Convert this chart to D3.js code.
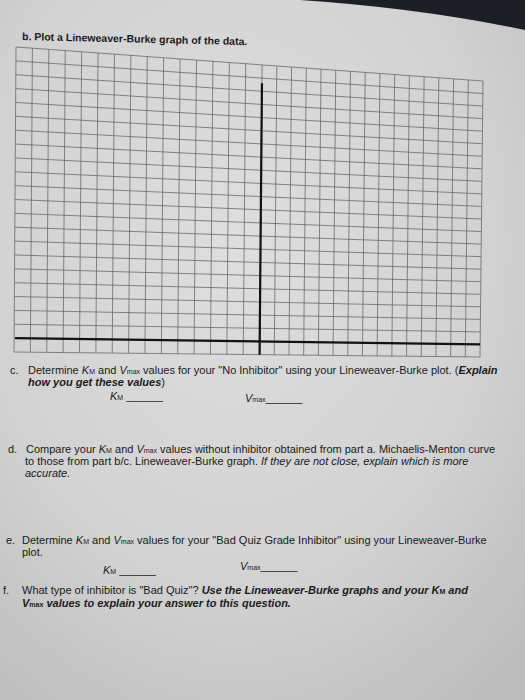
<!DOCTYPE html>
<meta charset="utf-8">
<style>
body { margin: 0; background: #cfcfcf; }
svg { display: block; font-family: "Liberation Sans", Arial, sans-serif; }
.q { font-size: 11px; fill: #1a1a1a; }
.grid line { stroke: #6a6a6a; stroke-width: 0.8; }
.axis { stroke: #111; stroke-width: 2.2; }
</style>
<svg width="525" height="700"></svg>
<script src="https://cdn.jsdelivr.net/npm/d3@7"></script>
<script>

// grid layout: columns, rows and where the axes sit
var nCols = 30;
var nRows = 22;
var yAxisCol = 15;
var xAxisRow = 21;

// paper corners (photo is in perspective): tl, tr, bl, br
var corners = [[16, 47], [483, 81], [14, 352], [480, 357]];

var title = "b.  Plot a Lineweaver-Burke graph of the data.";

var lines = [
  {x: 10, y: 374, parts: [["c.", ""]]},
  {x: 28, y: 374, parts: [["Determine ", ""], ["K", "i"], ["M", "is"], [" and ", ""], ["V", "i"], ["max", "is"], [" values for your \"No Inhibitor\" using your Lineweaver-Burke plot. (", ""], ["Explain", "bi"]]},
  {x: 28, y: 386, parts: [["how you get these values", "bi"], [")", ""]]},
  {x: 110, y: 400, parts: [["K", "i"], ["M", "is"], [" ______", ""]]},
  {x: 245, y: 402, parts: [["V", "i"], ["max", "is"], ["______", ""]]},
  {x: 8, y: 453, parts: [["d.", ""]]},
  {x: 26, y: 453, parts: [["Compare your ", ""], ["K", "i"], ["M", "is"], [" and ", ""], ["V", "i"], ["max", "is"], [" values without inhibitor obtained from part a. Michaelis-Menton curve", ""]]},
  {x: 25, y: 465, parts: [["to those from part b/c. Lineweaver-Burke graph.  ", ""], ["If they are not close, explain which is more", "i"]]},
  {x: 25, y: 477, parts: [["accurate.", "i"]]},
  {x: 6, y: 544, parts: [["e.", ""]]},
  {x: 22, y: 544, parts: [["Determine ", ""], ["K", "i"], ["M", "is"], [" and ", ""], ["V", "i"], ["max", "is"], [" values for your \"Bad Quiz Grade Inhibitor\" using your Lineweaver-Burke", ""]]},
  {x: 22, y: 556, parts: [["plot.", ""]]},
  {x: 103, y: 574, parts: [["K", "i"], ["M", "is"], [" ______", ""]]},
  {x: 240, y: 570, parts: [["V", "i"], ["max", "is"], ["______", ""]]},
  {x: 3, y: 594, parts: [["f.", ""]]},
  {x: 22, y: 594, parts: [["What type of inhibitor is \"Bad Quiz\"?  ", ""], ["Use the Lineweaver-Burke graphs and your ", "bi"], ["K", "bi"], ["M", "bis"], [" and", "bi"]]},
  {x: 22, y: 607, parts: [["V", "bi"], ["max", "bis"], [" values to explain your answer to this question.", "bi"]]}
];

var svg = d3.select("svg");

// paper background
var defs = svg.append("defs");
var grad = defs.append("radialGradient").attr("id", "paper")
    .attr("cx", "0.45").attr("cy", "0.35").attr("r", "0.8");
grad.append("stop").attr("offset", "0").attr("stop-color", "#dedede");
grad.append("stop").attr("offset", "0.6").attr("stop-color", "#d2d2d2");
grad.append("stop").attr("offset", "1").attr("stop-color", "#bdbdbd");
svg.append("rect").attr("width", 525).attr("height", 700).attr("fill", "url(#paper)");
svg.append("path").attr("d", "M300,0 L525,0 L525,30 Q420,8 300,0 Z").attr("fill", "#1c1f26");

// left half of the grid is a little wider in the photo
var u = d3.scaleLinear().domain([0, yAxisCol, nCols]).range([0, 0.527, 1]);
var v = d3.scaleLinear().domain([0, nRows]).range([0, 1]);

// bilinear map from unit square to photo quad
function P(s, t) {
  var a = corners[0], b = corners[1], c = corners[2], d = corners[3];
  return [
    (1 - s) * (1 - t) * a[0] + s * (1 - t) * b[0] + (1 - s) * t * c[0] + s * t * d[0],
    (1 - s) * (1 - t) * a[1] + s * (1 - t) * b[1] + (1 - s) * t * c[1] + s * t * d[1]
  ];
}

var g = svg.append("g").attr("class", "grid");
g.selectAll(".vl").data(d3.range(nCols + 1)).enter().append("line")
    .attr("x1", function(i) { return P(u(i), 0)[0]; })
    .attr("y1", function(i) { return P(u(i), 0)[1]; })
    .attr("x2", function(i) { return P(u(i), 1)[0]; })
    .attr("y2", function(i) { return P(u(i), 1)[1]; });
g.selectAll(".hl").data(d3.range(nRows + 1)).enter().append("line")
    .attr("x1", function(j) { return P(0, v(j))[0]; })
    .attr("y1", function(j) { return P(0, v(j))[1]; })
    .attr("x2", function(j) { return P(1, v(j))[0]; })
    .attr("y2", function(j) { return P(1, v(j))[1]; });

var ya = [P(u(yAxisCol), v(1.4)), P(u(yAxisCol), 1)];
svg.append("line").attr("class", "axis")
    .attr("x1", ya[0][0]).attr("y1", ya[0][1]).attr("x2", ya[1][0]).attr("y2", ya[1][1]);
var xa = [P(0, v(xAxisRow)), P(1, v(xAxisRow))];
svg.append("line").attr("class", "axis")
    .attr("x1", xa[0][0] + 1).attr("y1", xa[0][1]).attr("x2", xa[1][0]).attr("y2", xa[1][1]);

svg.append("text").attr("class", "q").attr("x", 22).attr("y", 40)
    .attr("transform", "rotate(1.3,22,40)")
    .style("font-weight", "bold").style("font-size", "10.5px").text(title);

lines.forEach(function(l) {
  var t = svg.append("text").attr("class", "q").attr("x", l.x).attr("y", l.y);
  l.parts.forEach(function(p) {
    var s = t.append("tspan").text(p[0]);
    if (p[1].indexOf("b") >= 0) s.style("font-weight", "bold");
    if (p[1].indexOf("i") >= 0) s.style("font-style", "italic");
    if (p[1].indexOf("s") >= 0) s.style("font-size", "7px").style("font-style", "normal");
  });
});

</script>
